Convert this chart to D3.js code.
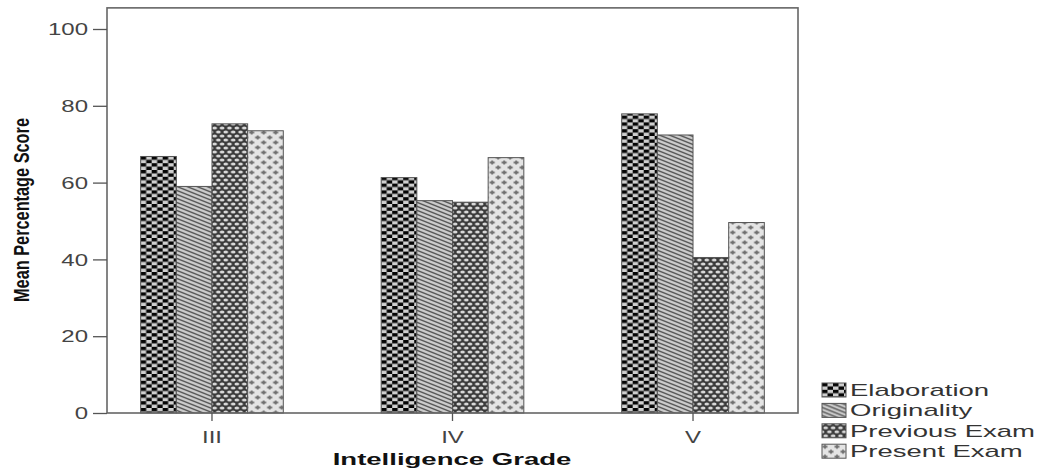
<!DOCTYPE html>
<html lang="en">
<head>
<meta charset="UTF-8">
<title>Mean Percentage Score by Intelligence Grade</title>
<script src="https://d3js.org/d3.v7.min.js"></script>
<style>
    body { margin: 0; background: #fff; }
    .tick text { font-family: Arial, 'Liberation Sans', sans-serif; font-size: 16px; fill: #444; }
    .tick line { stroke: #555; stroke-width: 1.3; }
    .title { font-family: Arial, 'Liberation Sans', sans-serif; font-weight: bold; fill: #111; }
    .legend text { font-family: Arial, 'Liberation Sans', sans-serif; font-size: 16px; fill: #333; }
</style>
</head>
<body>
<svg id="chart" width="1042" height="468"></svg>
<script>
    // data
    const grades = ["III", "IV", "V"];
    const series = ["Elaboration", "Originality", "Previous Exam", "Present Exam"];
    const elaboration = [66.8, 61.3, 77.9];
    const originality = [59.0, 55.3, 72.4];
    const previousExam = [75.3, 54.9, 40.5];
    const presentExam = [73.5, 66.5, 49.6];
    const yTicks = [0, 20, 40, 60, 80, 100];

    const values = [elaboration, originality, previousExam, presentExam];
    const patternIds = ["pElab", "pOrig", "pPrev", "pPres"];

    const svg = d3.select("#chart");
    const left = 107, right = 798, bottom = 413;
    const sx = 1.5; // the picture is stretched sideways

    const y = d3.scaleLinear().domain([0, 100]).range([bottom, 29]);
    const x = d3.scaleBand().domain(grades).range([left, right])
        .paddingInner(0.407).paddingOuter(0.14);
    const xs = d3.scaleBand().domain(series).range([0, x.bandwidth()]);

    // fill patterns
    const defs = svg.append("defs");

    let p = defs.append("pattern").attr("id", "pElab").attr("patternUnits", "userSpaceOnUse")
        .attr("width", 11).attr("height", 6.8);
    p.append("rect").attr("width", 11).attr("height", 6.8).attr("fill", "#cfcfcf");
    p.append("rect").attr("x", 0).attr("y", 0).attr("width", 5.5).attr("height", 3.4).attr("fill", "#050505");
    p.append("rect").attr("x", 5.5).attr("y", 3.4).attr("width", 5.5).attr("height", 3.4).attr("fill", "#050505");

    p = defs.append("pattern").attr("id", "pOrig").attr("patternUnits", "userSpaceOnUse")
        .attr("width", 10).attr("height", 4);
    p.append("rect").attr("width", 10).attr("height", 4).attr("fill", "#cccccc");
    p.append("path").attr("d", "M0,-4L10,0M0,0L10,4M0,4L10,8")
        .attr("stroke", "#555").attr("stroke-width", 1.4);

    p = defs.append("pattern").attr("id", "pPrev").attr("patternUnits", "userSpaceOnUse")
        .attr("width", 7.4).attr("height", 8);
    p.append("rect").attr("width", 7.4).attr("height", 8).attr("fill", "#3a3a3a");
    [[0, 0], [7.4, 0], [0, 8], [7.4, 8], [3.7, 4]].forEach(c => {
        p.append("ellipse").attr("cx", c[0]).attr("cy", c[1]).attr("rx", 2.4).attr("ry", 1.6).attr("fill", "#d8d8d8");
    });

    p = defs.append("pattern").attr("id", "pPres").attr("patternUnits", "userSpaceOnUse")
        .attr("width", 12).attr("height", 10);
    p.append("rect").attr("width", 12).attr("height", 10).attr("fill", "#e4e4e4");
    [[3, 2.5], [9, 7.5]].forEach(c => {
        p.append("path").attr("d", `M${c[0] - 2.5},${c[1]}h5M${c[0]},${c[1] - 2}v4`)
            .attr("stroke", "#707070").attr("stroke-width", 1.8);
    });

    // bars
    const rows = grades.map((g, i) => ({ grade: g, vals: values.map(v => v[i]) }));
    svg.append("g").selectAll("g").data(rows).join("g")
        .attr("transform", d => `translate(${x(d.grade)},0)`)
        .selectAll("rect")
        .data(d => d.vals.map((v, k) => ({ key: series[k], v: v, k: k })))
        .join("rect")
        .attr("x", d => xs(d.key))
        .attr("y", d => y(d.v))
        .attr("width", xs.bandwidth())
        .attr("height", d => y(0) - y(d.v))
        .attr("fill", d => `url(#${patternIds[d.k]})`)
        .attr("stroke", "#555")
        .attr("stroke-width", 1);

    // frame
    svg.append("rect")
        .attr("x", left).attr("y", y(105.5))
        .attr("width", right - left).attr("height", bottom - y(105.5))
        .attr("fill", "none").attr("stroke", "#666").attr("stroke-width", 1.6);

    // axes
    const yAxis = svg.append("g").attr("transform", `translate(${left},0)`)
        .call(d3.axisLeft(y).tickValues(yTicks).tickSize(14).tickPadding(3));
    yAxis.select(".domain").remove();
    yAxis.selectAll(".tick text")
        .attr("x", 0).attr("dy", "0.36em")
        .attr("transform", `translate(-19,0) scale(${sx},1)`);

    const xAxis = svg.append("g").attr("transform", `translate(0,${bottom})`)
        .call(d3.axisBottom(x).tickSize(8).tickPadding(0));
    xAxis.select(".domain").remove();
    xAxis.selectAll(".tick text")
        .attr("y", 0).attr("dy", 0)
        .attr("transform", `translate(0,30) scale(${sx},1)`);

    // axis titles
    svg.append("text").attr("class", "title")
        .attr("text-anchor", "middle")
        .style("font-size", "17px")
        .attr("transform", "translate(452,465) scale(1.62,1)")
        .text("Intelligence Grade");

    svg.append("text").attr("class", "title")
        .attr("text-anchor", "middle")
        .style("font-size", "16px")
        .style("font-family", "'Liberation Sans Narrow', 'Arial Narrow', Arial, sans-serif")
        .attr("transform", "translate(29,210) rotate(-90) scale(1.02,1.35)")
        .text("Mean Percentage Score");

    // legend
    const legend = svg.append("g").attr("class", "legend")
        .selectAll("g").data(series).join("g")
        .attr("transform", (d, i) => `translate(822,${383 + i * 20.4})`);
    legend.append("rect")
        .attr("width", 24).attr("height", 14)
        .attr("fill", (d, i) => `url(#${patternIds[i]})`)
        .attr("stroke", "#555").attr("stroke-width", 1);
    legend.append("text")
        .attr("transform", "translate(28,13) scale(1.72,1)")
        .text(d => d);
</script>
</body>
</html>
